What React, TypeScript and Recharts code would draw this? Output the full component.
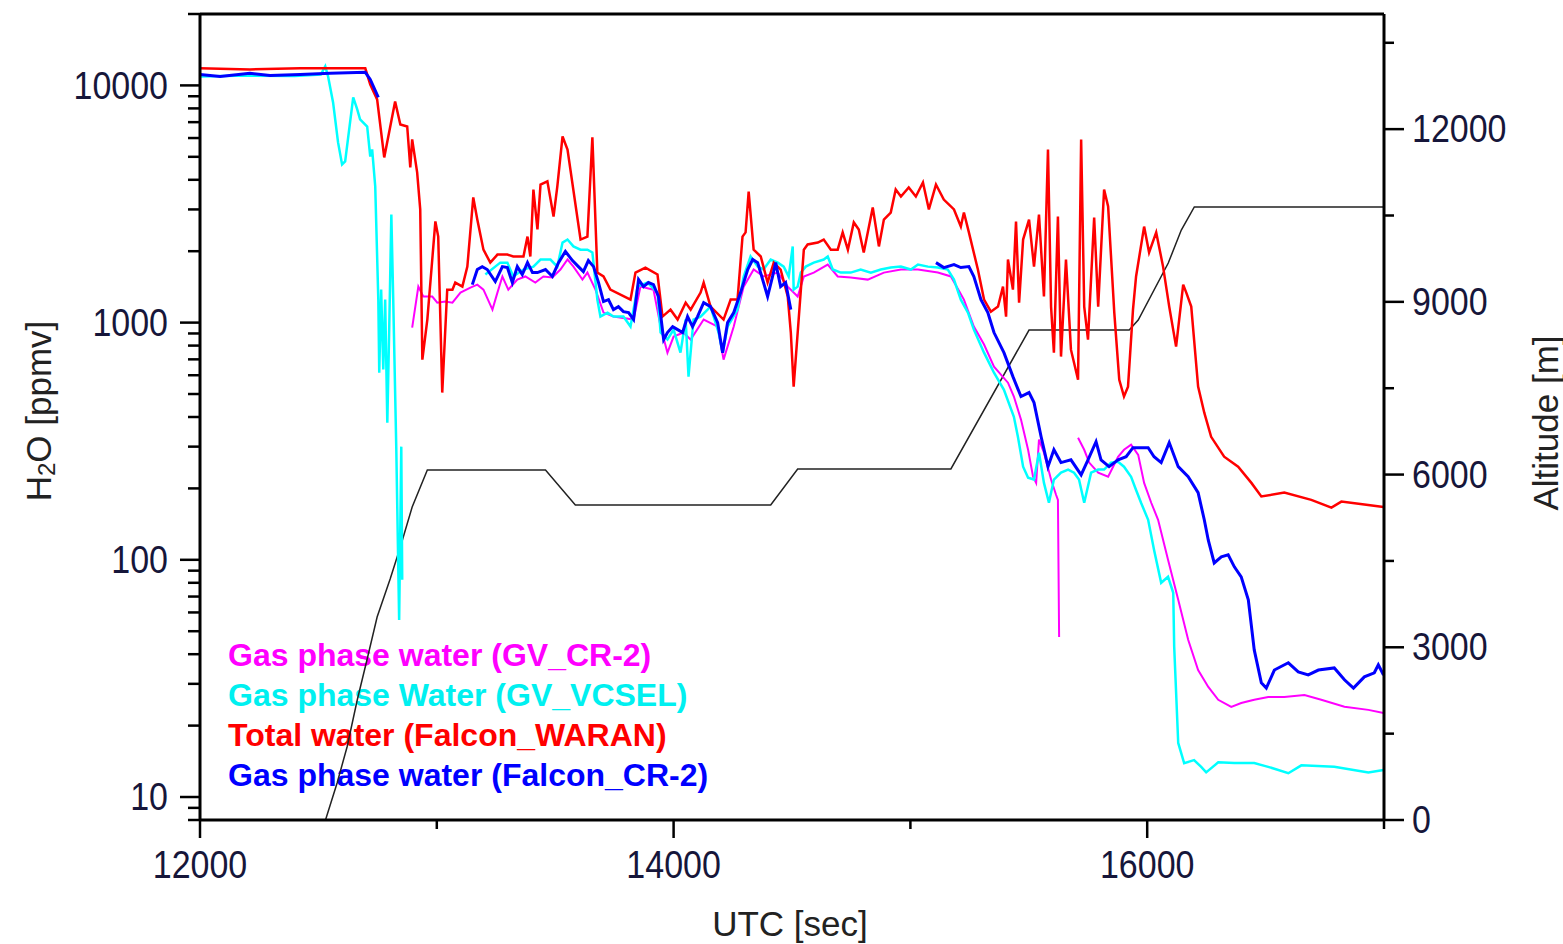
import { LineChart, Line, XAxis, YAxis } from 'recharts';

// UTC [sec] / value pairs
const altT = [12530, 12579, 12621, 12664, 12706, 12748, 12803, 12846, 12896, 12960, 13459, 13585, 14410, 14524, 15171, 15501, 15924, 15962, 16089, 16144, 16199, 17000];
const altV = [0, 643, 1268, 2084, 2797, 3526, 4186, 4742, 5437, 6080, 6080, 5472, 5472, 6097, 6097, 8511, 8511, 8685, 9675, 10248, 10648, 10648];

const redT = [12000, 12211, 12423, 12698, 12719, 12748, 12778, 12824, 12846, 12875, 12888, 12896, 12917, 12930, 12939, 12960, 12994, 13006, 13023, 13044, 13066, 13078, 13108, 13129, 13154, 13171, 13197, 13226, 13256, 13298, 13323, 13366, 13383, 13395, 13408, 13425, 13438, 13467, 13493, 13509, 13531, 13552, 13607, 13636, 13657, 13678, 13704, 13733, 13818, 13839, 13881, 13932, 13953, 13987, 14017, 14051, 14072, 14114, 14127, 14156, 14211, 14241, 14270, 14291, 14304, 14317, 14338, 14368, 14397, 14423, 14452, 14482, 14495, 14507, 14524, 14550, 14566, 14609, 14634, 14664, 14693, 14714, 14736, 14761, 14782, 14803, 14841, 14867, 14888, 14917, 14938, 14960, 14993, 15023, 15053, 15078, 15108, 15141, 15184, 15213, 15226, 15247, 15285, 15311, 15340, 15370, 15391, 15404, 15412, 15433, 15446, 15459, 15476, 15501, 15522, 15543, 15564, 15581, 15594, 15606, 15623, 15636, 15657, 15678, 15708, 15721, 15734, 15750, 15776, 15793, 15818, 15835, 15861, 15882, 15902, 15919, 15940, 15953, 15987, 16008, 16038, 16067, 16093, 16122, 16152, 16165, 16186, 16215, 16241, 16270, 16325, 16384, 16440, 16482, 16579, 16693, 16778, 16820, 16917, 16998];
const redV = [11800, 11680, 11800, 11800, 10090, 8730, 4970, 8560, 6840, 6710, 4510, 5920, 4300, 3000, 698, 1030, 2670, 2305, 507, 1377, 1377, 1475, 1418, 1722, 3370, 2720, 2030, 1790, 1935, 1935, 1900, 1900, 2305, 1900, 3640, 2470, 3820, 3940, 2800, 3750, 6090, 5370, 2240, 2305, 6040, 1625, 1565, 1377, 1250, 1625, 1706, 1595, 1060, 1134, 1030, 1214, 1134, 1338, 1475, 1168, 1030, 1250, 1250, 2305, 2400, 3570, 2030, 1900, 1475, 1790, 1674, 1288, 908, 537, 908, 2030, 2135, 2175, 2240, 2030, 2030, 2400, 2030, 2645, 2470, 1975, 3055, 2095, 2720, 2910, 3640, 3400, 3715, 3400, 3900, 3000, 3820, 3300, 3000, 2540, 2910, 2400, 1674, 1250, 1112, 1168, 1418, 1060, 1845, 1377, 2670, 1214, 2240, 2720, 1722, 2855, 1288, 5370, 1168, 747, 2800, 719, 1845, 769, 574, 5920, 1168, 848, 2775, 1168, 3640, 3085, 1102, 574, 488, 537, 1134, 1565, 2540, 1975, 2400, 1722, 1168, 792, 1446, 1338, 1168, 537, 417, 330, 272, 247, 211, 185, 192, 179, 166, 176, 171, 167];

const blueT = [12000, 12085, 12211, 12296, 12423, 12550, 12698, 12719, 12753, 12790, 13150, 13171, 13192, 13213, 13247, 13277, 13298, 13319, 13340, 13361, 13383, 13404, 13425, 13459, 13488, 13514, 13543, 13573, 13598, 13619, 13640, 13662, 13683, 13704, 13725, 13746, 13767, 13788, 13810, 13831, 13852, 13873, 13894, 13915, 13936, 13958, 13974, 13996, 14017, 14038, 14059, 14080, 14101, 14127, 14156, 14186, 14207, 14228, 14254, 14283, 14313, 14334, 14355, 14376, 14397, 14418, 14431, 14452, 14473, 14495, 14600, 15108, 15141, 15184, 15213, 15247, 15268, 15298, 15327, 15353, 15395, 15433, 15467, 15501, 15522, 15552, 15581, 15606, 15636, 15678, 15721, 15750, 15784, 15805, 15839, 15877, 15911, 15940, 15974, 16004, 16029, 16059, 16093, 16131, 16173, 16215, 16241, 16258, 16283, 16313, 16342, 16368, 16397, 16427, 16452, 16482, 16503, 16537, 16596, 16638, 16680, 16723, 16790, 16833, 16871, 16917, 16959, 16976, 16998];
const blueV = [11120, 10910, 11240, 11010, 11120, 11240, 11350, 10600, 8900, null, 1446, 1674, 1722, 1674, 1490, 1722, 1706, 1475, 1722, 1595, 1790, 1625, 1625, 1674, 1565, 1790, 1995, 1826, 1722, 1641, 1826, 1722, 1475, 1227, 1250, 1134, 1168, 1112, 1102, 1030, 1518, 1418, 1475, 1446, 1288, 848, 908, 962, 934, 908, 1060, 962, 1060, 1214, 1168, 1000, 747, 1000, 1102, 1338, 1674, 1845, 1790, 1518, 1288, 1565, 1790, 1418, 1475, 1134, null, 1790, 1706, 1757, 1706, 1722, 1565, 1250, 1102, 908, 747, 592, 488, 507, 460, 330, 247, 291, 257, 264, 228, 264, 315, 264, 247, 264, 272, 297, 297, 297, 272, 257, 312, 247, 224, 192, 147.5, 121, 97, 103, 105, 93.4, 84.8, 67.8, 41.7, 30.3, 28.8, 34.3, 36.8, 33.7, 32.7, 34.3, 35.0, 31.2, 28.8, 32.1, 33.4, 36.1, 32.7];

const cyanT = [12000, 12200, 12400, 12510, 12529, 12541, 12562, 12583, 12600, 12613, 12647, 12664, 12676, 12706, 12719, 12727, 12740, 12753, 12757, 12765, 12774, 12782, 12791, 12799, 12808, 12816, 12829, 12841, 12850, 12854, 12870, 13205, 13268, 13298, 13323, 13366, 13408, 13438, 13480, 13509, 13531, 13552, 13577, 13607, 13636, 13657, 13678, 13691, 13721, 13746, 13788, 13818, 13848, 13890, 13932, 13945, 13974, 14000, 14029, 14051, 14063, 14084, 14114, 14156, 14190, 14207, 14228, 14270, 14296, 14325, 14355, 14380, 14410, 14440, 14465, 14486, 14503, 14507, 14524, 14537, 14558, 14592, 14634, 14651, 14672, 14706, 14748, 14790, 14833, 14875, 14917, 14960, 15002, 15032, 15074, 15116, 15158, 15184, 15213, 15243, 15268, 15311, 15353, 15395, 15437, 15454, 15476, 15497, 15522, 15543, 15564, 15585, 15606, 15636, 15666, 15691, 15712, 15734, 15763, 15793, 15818, 15847, 15877, 15902, 15932, 15953, 15974, 16004, 16029, 16059, 16088, 16110, 16114, 16131, 16156, 16198, 16228, 16249, 16300, 16368, 16452, 16511, 16596, 16651, 16790, 16934, 16998];
const cyanV = [10900, 11000, 10950, 11100, 12030, 10910, 8480, 5750, 4640, 4780, 8900, 7920, 7190, 6710, 5015, 5370, 3750, 1250, 615, 1377, 634, 1250, 378, 934, 2855, 1250, 291, 55.8, 300, 82.4, null, 1595, 1790, 1790, 1565, 1674, 1722, 1845, 1845, 1722, 2175, 2240, 2095, 2030, 2030, 1975, 1250, 1060, 1102, 1060, 1060, 962, 1418, 1475, 1338, 908, 848, 934, 747, 1030, 592, 1030, 1060, 1168, 908, 747, 962, 1134, 1565, 1900, 1722, 1674, 1845, 1790, 1722, 1565, 2095, 1377, 1418, 1625, 1722, 1790, 1845, 1900, 1674, 1625, 1625, 1674, 1625, 1674, 1706, 1722, 1674, 1757, 1722, 1706, 1674, 1518, 1250, 1102, 934, 747, 615, 521, 401, 330, 247, 222, 218, 283, 211, 174, 218, 233, 240, 233, 218, 174, 233, 240, 240, 257, 259, 247, 224, 197, 174, 147.5, 110, 80, 84.8, 72.6, 43, 16.9, 13.9, 14.3, 13.4, 12.7, 14.0, 13.9, 13.9, 13.4, 12.6, 13.6, 13.4, 12.7, 13.0];

const magT = [12896, 12922, 12943, 12981, 13002, 13036, 13066, 13100, 13142, 13171, 13197, 13235, 13256, 13277, 13302, 13340, 13374, 13416, 13450, 13488, 13522, 13552, 13577, 13615, 13636, 13670, 13704, 13746, 13831, 13860, 13915, 13945, 13974, 14000, 14042, 14072, 14127, 14186, 14211, 14254, 14296, 14338, 14380, 14440, 14482, 14524, 14550, 14592, 14651, 14693, 14748, 14820, 14888, 14960, 15032, 15116, 15171, 15226, 15268, 15311, 15353, 15412, 15437, 15467, 15497, 15518, 15531, 15543, 15564, 15594, 15615, 15623, 15628, 15650, 15708, 15734, 15755, 15793, 15835, 15877, 15902, 15932, 15962, 15987, 16017, 16046, 16088, 16131, 16173, 16215, 16258, 16300, 16355, 16397, 16452, 16511, 16579, 16664, 16735, 16833, 16934, 16998];
const magV = [953, 1418, 1288, 1288, 1214, 1227, 1214, 1338, 1405, 1446, 1377, 1134, 1338, 1565, 1377, 1518, 1565, 1475, 1565, 1549, 1674, 1845, 1722, 1518, 1625, 1377, 1102, 1060, 1030, 1418, 1377, 962, 747, 873, 908, 848, 1030, 962, 698, 962, 1418, 1674, 1565, 1625, 1418, 1288, 1565, 1625, 1757, 1565, 1549, 1518, 1625, 1674, 1674, 1625, 1565, 1250, 962, 808, 652, 558, 488, 390, 291, 224, 211, 321, 283, 218, 188, 179, 47.3, null, 327, 291, 257, 233, 224, 272, 291, 306, 277, 211, 174, 147.5, 100, 67.8, 46, 34.3, 29.1, 25.7, 24.0, 24.9, 25.7, 26.4, 26.4, 26.9, 25.7, 24.0, 23.3, 22.6];

const h2oMajor = [10, 100, 1000, 10000];
const h2oTicks = [8, 9, 10, 20, 30, 40, 50, 60, 70, 80, 90, 100, 200, 300, 400, 500, 600, 700, 800, 900, 1000, 2000, 3000, 4000, 5000, 6000, 7000, 8000, 9000, 10000, 20000];
const altMajor = [0, 3000, 6000, 9000, 12000];
const altTicks = [0, 1500, 3000, 4500, 6000, 7500, 9000, 10500, 12000, 13500];
const utcMajor = [12000, 14000, 16000];
const utcTicks = [12000, 13000, 14000, 15000, 16000, 17000];

const legendItems = [
  { name: 'Gas phase water (GV_CR-2)', color: '#ff00ff' },
  { name: 'Gas phase Water (GV_VCSEL)', color: '#00f0f0' },
  { name: 'Total water (Falcon_WARAN)', color: '#ff0000' },
  { name: 'Gas phase water (Falcon_CR-2)', color: '#0000ff' },
];

const toPoints = (ts: number[], vs: (number | null)[]) => ts.map((t, i) => ({ t, v: vs[i] }));

const FONT = '"Liberation Sans", Arial, sans-serif';
const TICK_COLOR = '#16163a';

// tick digits in the source look a little taller than plain Arial
const TickText = ({ x, y, anchor, children, central }: any) => (
  <text
    x={x}
    y={y}
    textAnchor={anchor}
    dominantBaseline={central ? 'central' : 'auto'}
    fontSize={34}
    fontFamily={FONT}
    fill={TICK_COLOR}
    transform={`translate(0, ${y}) scale(1, 1.12) translate(0, ${-y})`}
  >
    {children}
  </text>
);

const LeftTick = ({ x, y, payload }: any) => {
  const major = h2oMajor.includes(payload.value);
  return (
    <g>
      <line x1={x} x2={x - (major ? 20 : 12)} y1={y} y2={y} stroke="#000" strokeWidth={2.5} />
      {major && <TickText x={x - 32} y={y} anchor="end" central>{payload.value}</TickText>}
    </g>
  );
};

const RightTick = ({ x, y, payload }: any) => {
  const major = altMajor.includes(payload.value);
  return (
    <g>
      <line x1={x} x2={x + (major ? 20 : 10)} y1={y} y2={y} stroke="#000" strokeWidth={2.5} />
      {major && <TickText x={x + 28} y={y} anchor="start" central>{payload.value}</TickText>}
    </g>
  );
};

const BottomTick = ({ x, y, payload }: any) => {
  const major = utcMajor.includes(payload.value);
  return (
    <g>
      <line x1={x} x2={x} y1={y} y2={y + (major ? 18 : 9)} stroke="#000" strokeWidth={2.5} />
      {major && <TickText x={x} y={y + 58} anchor="middle">{payload.value}</TickText>}
    </g>
  );
};

const H2OTitle = ({ viewBox }: any) => {
  const cx = 38;
  const cy = viewBox.y + viewBox.height / 2 - 6;
  return (
    <text x={cx} y={cy} transform={`rotate(-90, ${cx}, ${cy})`} textAnchor="middle" dominantBaseline="central" fontSize={35} fontFamily={FONT} fill="#222">
      H<tspan dy={8} fontSize={24}>2</tspan><tspan dy={-8}>O [ppmv]</tspan>
    </text>
  );
};

const AltTitle = ({ viewBox }: any) => {
  const cx = 1545;
  const cy = viewBox.y + viewBox.height / 2 + 6;
  return (
    <text x={cx} y={cy} transform={`rotate(-90, ${cx}, ${cy})`} textAnchor="middle" dominantBaseline="central" fontSize={35} fontFamily={FONT} fill="#222">
      Altitude [m]
    </text>
  );
};

const UtcTitle = ({ viewBox }: any) => (
  <text x={viewBox.x + viewBox.width / 2 - 2} y={936} textAnchor="middle" fontSize={35} fontFamily={FONT} fill="#222">
    UTC [sec]
  </text>
);

export default function App() {
  return (
    <div style={{ position: 'absolute', left: 0, top: 0, width: 1563, height: 944, background: '#fff' }}>
      {/* legend sits under the chart svg so the altitude trace crosses it */}
      <div style={{ position: 'absolute', left: 228, top: 635, fontFamily: FONT, fontWeight: 'bold', fontSize: 32, lineHeight: '40px' }}>
        {legendItems.map((it) => (
          <div key={it.name} style={{ color: it.color, whiteSpace: 'nowrap' }}>{it.name}</div>
        ))}
      </div>
      <LineChart width={1563} height={944} margin={{ top: 4, right: 19, left: 20, bottom: 24 }} style={{ position: 'relative' }}>
        <XAxis
          xAxisId="utc"
          dataKey="t"
          type="number"
          domain={[12000, 17000]}
          allowDataOverflow
          ticks={utcTicks}
          interval={0}
          height={100}
          tickSize={0}
          tickMargin={0}
          tickLine={false}
          tick={<BottomTick />}
          axisLine={{ stroke: '#000', strokeWidth: 3 }}
          label={{ content: UtcTitle }}
        />
        <XAxis
          xAxisId="top"
          orientation="top"
          dataKey="t"
          type="number"
          domain={[12000, 17000]}
          allowDataOverflow
          height={10}
          tick={false}
          tickLine={false}
          axisLine={{ stroke: '#000', strokeWidth: 3 }}
        />
        <YAxis
          yAxisId="h2o"
          scale="log"
          type="number"
          domain={[8, 20000]}
          allowDataOverflow
          ticks={h2oTicks}
          interval={0}
          width={180}
          tickSize={0}
          tickMargin={0}
          tickLine={false}
          tick={<LeftTick />}
          axisLine={{ stroke: '#000', strokeWidth: 3 }}
          label={{ content: H2OTitle }}
        />
        <YAxis
          yAxisId="alt"
          orientation="right"
          type="number"
          domain={[0, 14000]}
          allowDataOverflow
          ticks={altTicks}
          interval={0}
          width={160}
          tickSize={0}
          tickMargin={0}
          tickLine={false}
          tick={<RightTick />}
          axisLine={{ stroke: '#000', strokeWidth: 3 }}
          label={{ content: AltTitle }}
        />
        <Line xAxisId="top" yAxisId="alt" data={toPoints(altT, altV)} dataKey="v" stroke="#222" strokeWidth={1.5} dot={false} isAnimationActive={false} />
        <Line xAxisId="utc" yAxisId="h2o" data={toPoints(magT, magV)} dataKey="v" stroke="#ff00ff" strokeWidth={2} dot={false} isAnimationActive={false} />
        <Line xAxisId="utc" yAxisId="h2o" data={toPoints(cyanT, cyanV)} dataKey="v" stroke="#00ffff" strokeWidth={2.5} dot={false} isAnimationActive={false} />
        <Line xAxisId="utc" yAxisId="h2o" data={toPoints(redT, redV)} dataKey="v" stroke="#ff0000" strokeWidth={2.5} dot={false} isAnimationActive={false} />
        <Line xAxisId="utc" yAxisId="h2o" data={toPoints(blueT, blueV)} dataKey="v" stroke="#0000ff" strokeWidth={3} dot={false} isAnimationActive={false} />
      </LineChart>
    </div>
  );
}
